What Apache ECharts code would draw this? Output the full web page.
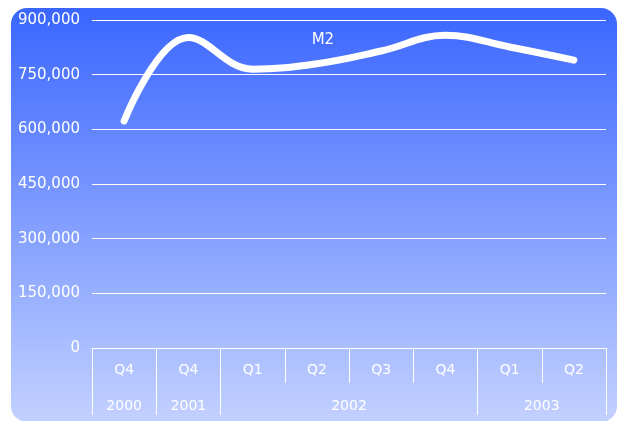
<!DOCTYPE html>
<html>
<head>
<meta charset="utf-8">
<script src="https://cdn.jsdelivr.net/npm/echarts@6/dist/echarts.min.js"></script>
<style>
  html, body { margin: 0; padding: 0; background: #fff; }
  #chart { width: 617px; height: 421px; }
</style>
</head>
<body>
<div id="chart"></div>
<script>
// quarters on the lower axis, years grouped below them
var quarters = ["Q4", "Q4", "Q1", "Q2", "Q3", "Q4", "Q1", "Q2"];
var years = ["2000", "2001", "2002", "2003"];
var yearSpans = [1, 1, 4, 2];
var m2Values = [623000, 852000, 765000, 780000, 815000, 858000, 826000, 790000];
var seriesName = "M2";

// year axis: half-quarter slots, labels in the middle of each group, ticks at group edges
var slotLabels = [];
var tickSlots = {};
var labelSlots = {};
var pos = 0;
for (var i = 0; i <= quarters.length * 2; i++) slotLabels.push("");
years.forEach(function (y, k) {
  tickSlots[pos * 2] = true;
  var mid = pos * 2 + yearSpans[k];
  slotLabels[mid] = y;
  labelSlots[mid] = true;
  pos += yearSpans[k];
});
tickSlots[pos * 2] = true;

var chart = echarts.init(document.getElementById("chart"));
var font = "DejaVu Sans";
var option = {
  animation: false,
  graphic: [
    {
      type: "rect",
      z: -10,
      shape: { x: 11, y: 8, width: 606, height: 414, r: 16 },
      style: {
        fill: new echarts.graphic.LinearGradient(0, 0, 0, 1, [
          { offset: 0, color: "#3a66ff" },
          { offset: 1, color: "#c3d1ff" },
        ]),
      },
    },
  ],
  grid: { left: 92, right: 11, top: 20, bottom: 73 },
  xAxis: [
    {
      type: "category",
      position: "bottom",
      data: quarters,
      boundaryGap: true,
      axisLine: { show: true, lineStyle: { color: "#ffffff", width: 1 } },
      axisTick: { show: true, interval: 0, length: 35, lineStyle: { color: "#ffffff", width: 1 } },
      axisLabel: { color: "#ffffff", fontSize: 14, fontFamily: font, margin: 15, interval: 0 },
    },
    {
      type: "category",
      position: "bottom",
      data: slotLabels,
      boundaryGap: false,
      axisLine: { show: false },
      axisTick: {
        show: true,
        length: 67,
        interval: function (idx) { return !!tickSlots[idx]; },
        lineStyle: { color: "#ffffff", width: 1 },
      },
      axisLabel: {
        color: "#ffffff",
        fontSize: 14,
        fontFamily: font,
        margin: 51,
        interval: function (idx) { return !!labelSlots[idx]; },
      },
    },
  ],
  yAxis: {
    type: "value",
    min: 0,
    max: 900000,
    interval: 150000,
    axisLine: { show: false },
    axisTick: { show: false },
    axisLabel: {
      color: "#ffffff",
      fontSize: 15,
      fontFamily: font,
      margin: 12,
      formatter: function (v) { return v.toLocaleString("en-US"); },
    },
    splitLine: { lineStyle: { color: "#ffffff", width: 1 } },
  },
  series: [
    {
      name: seriesName,
      type: "line",
      xAxisIndex: 0,
      smooth: 0.4,
      symbol: "circle",
      symbolSize: 0,
      showSymbol: true,
      lineStyle: { color: "#ffffff", width: 7, cap: "round", join: "round" },
      data: m2Values.map(function (v, i) {
        if (i === 3) {
          return {
            value: v,
            label: {
              show: true,
              position: "top",
              distance: 16,
              offset: [6, 0],
              formatter: seriesName,
              color: "#ffffff",
              fontSize: 15,
              fontFamily: font,
            },
          };
        }
        return v;
      }),
    },
  ],
};
chart.setOption(option);
</script>
</body>
</html>
